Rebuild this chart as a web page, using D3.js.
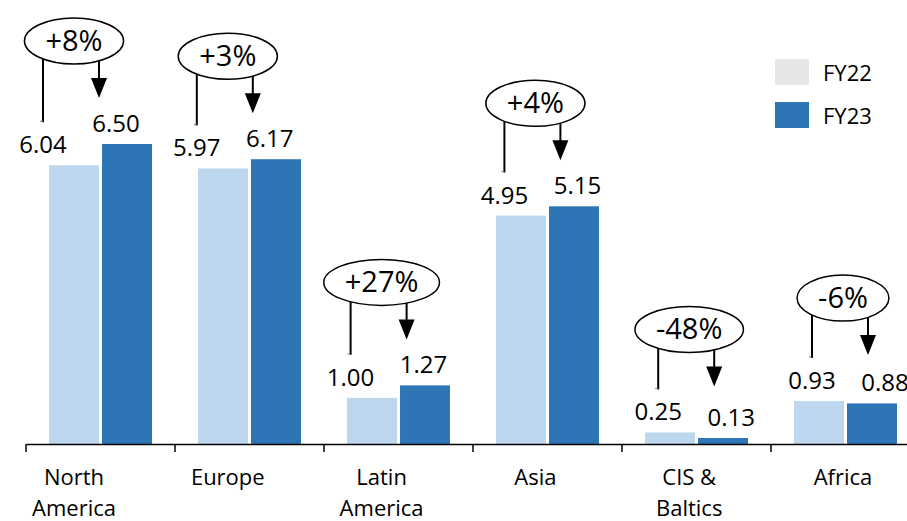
<!DOCTYPE html>
<html>
<head>
<meta charset="utf-8">
<script src="https://cdn.jsdelivr.net/npm/d3@7"></script>
<style>
  body { margin: 0; background: #fff; }
  svg text { font-family: "Open Sans", "Liberation Sans", sans-serif; fill: #000; }
</style>
</head>
<body>
<div id="chart"></div>
<script>
// data
var regions = ["North America", "Europe", "Latin America", "Asia", "CIS & Baltics", "Africa"];
var regionLines = [["North", "America"], ["Europe"], ["Latin", "America"], ["Asia"], ["CIS &", "Baltics"], ["Africa"]];
var fy22 = [6.04, 5.97, 1.00, 4.95, 0.25, 0.93];
var fy23 = [6.50, 6.17, 1.27, 5.15, 0.13, 0.88];
var changes = ["+8%", "+3%", "+27%", "+4%", "-48%", "-6%"];
var seriesNames = ["FY22", "FY23"];

var width = 907, height = 521;
var colBar22 = "#BDD7EE", colBar23 = "#2E75B6", colLegend22 = "#E7E6E6";

var svg = d3.select("#chart")
  .append("svg")
    .attr("width", width)
    .attr("height", height);

// scales
var x = d3.scaleBand()
    .domain(regions)
    .range([26, 26 + 149 * regions.length]);

var xSub = d3.scaleBand()
    .domain(seriesNames)
    .range([23, 126])
    .paddingInner(0.057);

var y = d3.scaleLinear()
    .domain([0, 6.5])
    .range([444, 144]);

// label positions drift a bit from the bands in the original
var xLab = d3.scalePoint()
    .domain(regions)
    .range([74, 843]);

var rows = regions.map(function(r, i) {
  return {region: r, lines: regionLines[i], v22: fy22[i], v23: fy23[i], change: changes[i]};
});

// bars
var groups = svg.selectAll("g.region")
  .data(rows)
  .enter()
  .append("g")
    .attr("class", "region")
    .attr("transform", function(d) { return "translate(" + x(d.region) + ",0)"; });

groups.append("rect")
    .attr("x", xSub("FY22"))
    .attr("y", function(d) { return y(d.v22); })
    .attr("width", xSub.bandwidth())
    .attr("height", function(d) { return y(0) - y(d.v22); })
    .style("fill", colBar22);

groups.append("rect")
    .attr("x", xSub("FY23"))
    .attr("y", function(d) { return y(d.v23); })
    .attr("width", xSub.bandwidth())
    .attr("height", function(d) { return y(0) - y(d.v23); })
    .style("fill", colBar23);

// axis
var xAxis = svg.append("g")
    .attr("transform", "translate(0," + y(0) + ")")
    .call(d3.axisBottom(x).tickSize(0).tickSizeOuter(0).tickFormat(""));
xAxis.select(".domain").attr("stroke", "#000").attr("stroke-width", 1.5);

svg.selectAll("line.sep")
  .data(regions)
  .enter()
  .append("line")
    .attr("class", "sep")
    .attr("x1", function(d) { return x(d); })
    .attr("x2", function(d) { return x(d); })
    .attr("y1", y(0))
    .attr("y2", y(0) + 8)
    .attr("stroke", "#000")
    .attr("stroke-width", 1.5);

var catLabels = svg.selectAll("text.cat")
  .data(rows)
  .enter()
  .append("text")
    .attr("class", "cat")
    .attr("text-anchor", "middle")
    .style("font-size", "22px");

catLabels.selectAll("tspan")
  .data(function(d) { return d.lines.map(function(l) { return {line: l, region: d.region}; }); })
  .enter()
  .append("tspan")
    .attr("x", function(d) { return xLab(d.region); })
    .attr("y", function(d, i) { return 485 + i * 31; })
    .text(function(d) { return d.line; });

// value labels
svg.selectAll("text.v22")
  .data(rows)
  .enter()
  .append("text")
    .attr("class", "v22")
    .attr("text-anchor", "middle")
    .style("font-size", "24px")
    .attr("x", function(d) { return xLab(d.region) - 31; })
    .attr("y", function(d) { return y(d.v22) - 12; })
    .text(function(d) { return d.v22.toFixed(2); });

svg.selectAll("text.v23")
  .data(rows)
  .enter()
  .append("text")
    .attr("class", "v23")
    .attr("text-anchor", "middle")
    .style("font-size", "24px")
    .attr("x", function(d) { return xLab(d.region) + 42; })
    .attr("y", function(d) { return y(d.v23) - 12; })
    .text(function(d) { return d.v23.toFixed(2); });

// change bubbles with connector and arrow
var ry = 23;
var notes = svg.selectAll("g.note")
  .data(rows)
  .enter()
  .append("g")
    .attr("class", "note");

notes.each(function(d) {
  var g = d3.select(this);
  var cx = xLab(d.region);
  var cy = y(Math.max(d.v22, d.v23)) - 103;

  var t = g.append("text")
      .attr("x", cx)
      .attr("y", cy + 10)
      .attr("text-anchor", "middle")
      .style("font-size", "29px")
      .text(d.change);
  var rx = t.node().getComputedTextLength() / 2 + 21;

  g.insert("ellipse", "text")
      .attr("cx", cx)
      .attr("cy", cy)
      .attr("rx", rx)
      .attr("ry", ry)
      .attr("fill", "#fff")
      .attr("stroke", "#000")
      .attr("stroke-width", 1.5);

  function edge(px) {
    var dx = (px - cx) / rx;
    return cy + ry * Math.sqrt(Math.max(0, 1 - dx * dx));
  }

  // left connector down to the FY22 label
  var lx = cx - 31;
  g.append("line")
      .attr("x1", lx).attr("x2", lx)
      .attr("y1", edge(lx))
      .attr("y2", y(d.v22) - 12 - 17 - 14)
      .attr("stroke", "#000")
      .attr("stroke-width", 2);
  g.append("line")
      .attr("x1", lx - 3).attr("x2", lx)
      .attr("y1", y(d.v22) - 12 - 17 - 15)
      .attr("y2", y(d.v22) - 12 - 17 - 15)
      .attr("stroke", "#777")
      .attr("stroke-width", 1);

  // right arrow
  var ax = cx + 25, tip = cy + 57;
  g.append("line")
      .attr("x1", ax).attr("x2", ax)
      .attr("y1", edge(ax))
      .attr("y2", tip - 18)
      .attr("stroke", "#000")
      .attr("stroke-width", 2);
  g.append("path")
      .attr("d", "M" + (ax - 8) + "," + (tip - 20) + "L" + (ax + 8) + "," + (tip - 20) + "L" + ax + "," + tip + "Z")
      .attr("fill", "#000");
});

// legend
var legend = svg.selectAll("g.legend")
  .data(seriesNames)
  .enter()
  .append("g")
    .attr("class", "legend")
    .attr("transform", function(d, i) { return "translate(775," + (59 + i * 43) + ")"; });

legend.append("rect")
    .attr("width", 34)
    .attr("height", 26)
    .style("fill", function(d, i) { return i === 0 ? colLegend22 : colBar23; });

legend.append("text")
    .attr("x", 48)
    .attr("y", 22)
    .style("font-size", "22px")
    .text(function(d) { return d; });
</script>
</body>
</html>
